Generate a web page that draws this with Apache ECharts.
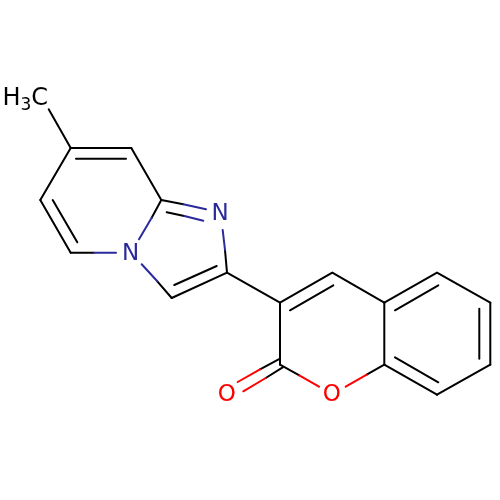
<!DOCTYPE html>
<html>
<head>
<meta charset="utf-8">
<style>html,body{margin:0;padding:0;background:#fff}#c{width:500px;height:500px}</style>
<script src="https://cdn.jsdelivr.net/npm/echarts@6/dist/echarts.min.js"></script>
</head>
<body>
<div id="c"></div>
<script>
// Bond segments as [x1, y1, x2, y2] on a 0-500 drawing scale
var blackBonds = [
  [48.7,109.3,70.7,148],[70.7,148,131.3,148],[76,158.7,126,158.7],
  [131.3,148,161.3,200],[70.7,148,40.3,200],[40.3,200,70.7,252.7],
  [52.7,200,77.3,242.3],[70.7,252.7,94,252.7],[161.3,200,151.7,217.7],
  [157.3,281.3,171.7,298],[171.7,298,227,272.7],[174.3,285,216.7,266],
  [227,272.7,225,250],[161.3,200,183.3,204.3],[166.7,212.3,184.3,216],
  [227,272.7,280,302.7],[280,302.7,332.3,272.7],[290,310.3,333.3,285.3],
  [332.3,272.7,384.3,302.7],[384.3,302.7,437,272.7],[395,310.3,438.3,285.3],
  [437,272.7,490.3,302.7],[490.3,302.7,490.3,364.7],[479.3,308.7,479.3,358.7],
  [490.3,364.7,437,394.7],[437,394.7,384.3,364.7],[395,357.3,438.3,382.3],
  [384.3,364.7,384.3,302.7],[280,302.7,280,364.7],[280,364.7,299.3,375.3],
  [366.7,374.7,384.3,364.7],[280,358.7,260,369.3],[282.7,367.3,265.7,378]
];
var blueBonds = [
  [94,252.7,116,252.7],[151.7,217.7,139,239.3],[141.7,264.3,157.3,281.3],
  [225,250,222.7,230],[183.3,204.3,206,209.3],[184.3,216,203.3,220.7]
];
var redBonds = [
  [299.3,375.3,319,386.7],[345.7,386.7,366.7,374.7],
  [260,369.3,237.7,382],[265.7,378,243.3,391.3]
];
var atomNames = ['{m|H}{s|3}{m|C}','N','N','O','O'];
var atomX = [25.2,220,130.7,226.7,331.7];
var atomY = [99,214,254,395,395];
var atomColors = ['#000000','#2a2a9c','#2a2a9c','#ff0000','#ff0000'];

function bondSeries(list, color){
  return list.map(function(b){
    return {
      type:'line', silent:true, symbol:'none', clip:false, animation:false,
      data:[[b[0],b[1]],[b[2],b[3]]],
      lineStyle:{color:color,width:2,cap:'round',join:'round',opacity:1}
    };
  });
}
var chart = echarts.init(document.getElementById('c'),null,{renderer:'canvas'});
var series = [].concat(bondSeries(blackBonds,'#000000'),bondSeries(blueBonds,'#2a2a9c'),bondSeries(redBonds,'#ff0000'));
series.push({
  type:'scatter', silent:true, symbolSize:0, clip:false, animation:false,
  itemStyle:{opacity:1},
  data:atomNames.map(function(n,i){
    return {
      value:[atomX[i],atomY[i]],
      itemStyle:{opacity:1},
      label:{show:true,position:'inside',formatter:n,color:atomColors[i],opacity:1,
        fontFamily:'DejaVu Sans',fontSize:23,align:'center',verticalAlign:'middle',
        rich:{
          m:{fontFamily:'DejaVu Sans',fontSize:24,color:atomColors[i],opacity:1},
          s:{fontFamily:'DejaVu Sans',fontSize:17,color:atomColors[i],opacity:1,padding:[14,0,0,0]}
        }}
    };
  })
});
chart.setOption({
  animation:false,
  backgroundColor:'#ffffff',
  grid:{left:0,right:0,top:0,bottom:0},
  xAxis:{type:'value',min:0,max:500,show:false},
  yAxis:{type:'value',min:0,max:500,inverse:true,show:false},
  series:series
});
</script>
</body>
</html>
